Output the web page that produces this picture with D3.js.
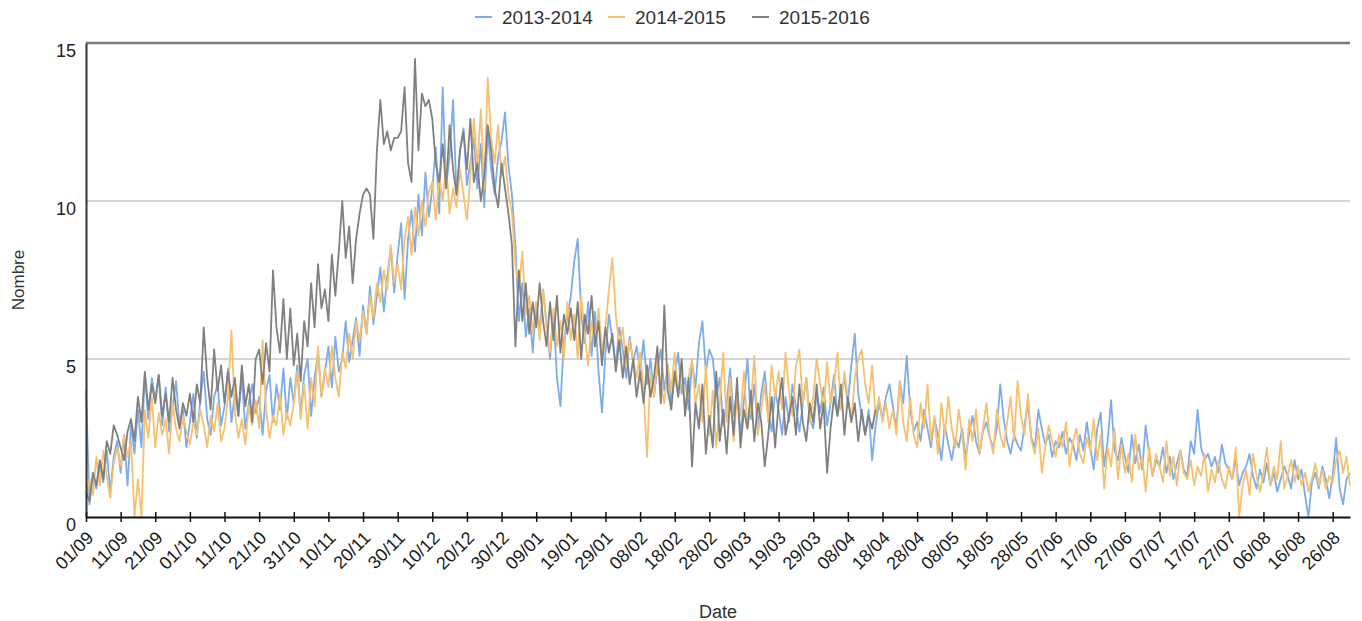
<!DOCTYPE html>
<html>

<head>
    <meta charset="utf-8">
    <style>
        body {
            margin: 0;
            background: #fff;
        }

        text {
            font-family: "Liberation Sans", Arial, sans-serif;
        }
    </style>
    <script src="https://cdn.jsdelivr.net/npm/d3@7"></script>
</head>

<body>
    <script>
        const seriesNames = ["2013-2014", "2014-2015", "2015-2016"];
        const seriesColors = ["#7eacea", "#f6c16f", "#808080"];

        const tickLabels = ["01/09", "11/09", "21/09", "01/10", "11/10", "21/10", "31/10", "10/11", "20/11",
            "30/11", "10/12", "20/12", "30/12", "09/01", "19/01", "29/01", "08/02", "18/02", "28/02",
            "09/03", "19/03", "29/03", "08/04", "18/04", "28/04", "08/05", "18/05", "28/05", "07/06",
            "17/06", "27/06", "07/07", "17/07", "27/07", "06/08", "16/08", "26/08"];

        const yTicks = [0, 5, 10, 15];

        // one value per day, starting 01/09
        const values2013 = [
            4.0, 0.4, 1.3, 0.9, 1.6, 1.1, 2.1, 0.8, 1.9, 2.4,
            1.4, 2.6, 1.0, 2.9, 2.0, 3.4, 2.2, 4.5, 3.1, 4.4,
            3.7, 4.5, 2.9, 4.1, 2.7, 3.5, 4.3, 2.9, 3.4, 2.2,
            3.0, 3.9, 2.5, 3.7, 4.6, 3.1, 2.6, 3.8, 4.2, 2.9,
            3.5, 4.7, 3.0, 3.9, 3.2, 4.4, 2.8, 3.6, 4.2, 3.3,
            3.8, 2.6, 4.0, 4.5, 3.0, 4.2, 3.4, 4.7, 3.1, 4.4,
            3.6, 4.8, 3.2, 4.5, 5.0, 3.2, 4.4, 5.2, 3.8, 4.6,
            5.4, 4.1, 5.7, 4.6, 5.0, 6.2, 4.9, 5.6, 6.3, 5.1,
            6.7, 5.8, 7.3, 6.1, 7.0, 7.9, 6.5, 7.6, 8.5, 7.1,
            8.3, 9.3, 6.9, 8.8, 9.7, 8.4, 10.2, 8.9, 10.9, 9.5,
            10.4, 11.7, 9.6, 13.6, 10.5, 11.4, 13.2, 10.2, 11.6, 12.3,
            10.5, 11.2, 12.0, 10.4, 11.8, 9.8, 12.2, 11.0, 10.2, 11.4,
            11.9, 12.8, 11.1, 10.2, 8.6, 6.2, 7.4, 5.7, 6.6, 5.2,
            6.8, 5.9, 7.2, 6.1, 5.0, 6.4, 4.4, 3.5, 5.6, 6.3,
            7.0, 8.1, 8.8, 6.4, 5.5, 6.8, 5.1, 6.5, 4.6, 3.3,
            5.2, 6.4, 5.6, 4.8, 6.0, 5.3, 4.4, 5.7, 4.9, 5.4,
            4.6, 5.6, 4.2, 5.0, 3.8, 4.7, 5.3, 4.0, 4.8, 3.6,
            4.5, 5.2, 3.9, 4.4, 3.4, 4.9, 4.1, 5.5, 6.2, 4.6,
            5.3, 5.0, 3.8, 4.4, 2.9, 3.6, 4.7, 3.2, 4.0, 2.6,
            3.7, 5.0, 3.1, 4.2, 2.8, 3.9, 4.6, 3.3, 2.7, 4.0,
            3.4, 2.6, 3.8, 3.0, 4.2, 3.5, 2.7, 3.6, 4.4, 3.1,
            2.8, 3.9, 3.3, 4.1, 2.9, 3.6, 4.5, 3.2, 3.8, 4.4,
            3.6, 4.8, 5.8, 3.9, 3.2, 2.6, 3.4, 1.8, 2.9, 3.6,
            3.1, 3.8, 4.2, 3.5, 2.8, 4.3, 3.6, 5.1, 3.4, 2.7,
            3.0, 2.4, 3.4, 2.8, 2.2, 3.1, 2.6, 1.8, 2.9, 2.3,
            1.8, 2.5, 2.2, 2.8, 1.9, 2.6, 3.2, 2.4, 2.0, 2.7,
            3.0, 2.5, 2.2, 2.8, 4.2, 3.1, 2.4, 2.0, 2.6, 2.3,
            2.1, 2.9, 3.6, 2.5, 2.2, 3.4, 2.8, 2.3, 2.6, 1.9,
            2.4, 2.2, 2.7, 2.0, 2.5, 2.3, 1.8, 2.6, 2.1, 3.0,
            2.2, 1.5, 2.8, 3.3, 1.6, 2.4, 3.7, 2.1, 1.8, 2.5,
            1.9, 1.4, 2.6, 1.7, 2.3, 1.5, 2.9, 2.0, 1.3, 1.8,
            1.6, 2.2, 1.4, 1.9, 1.2, 1.7, 2.1, 1.5, 1.3, 2.4,
            2.0, 3.4, 2.2, 1.8, 2.0, 1.6, 1.9, 1.4, 2.3, 1.7,
            1.5, 1.2, 1.8, 1.0, 1.4, 1.6, 2.0, 1.3, 0.9, 1.5,
            1.1, 1.7, 1.0, 1.4, 0.8, 1.2, 1.6, 1.3, 0.9, 1.8,
            1.2, 1.5, 0.7, 0.0, 1.1, 1.4, 0.9, 1.6, 1.2, 0.6,
            1.3, 2.5, 0.9, 0.4, 1.2, 1.4
        ];

        const values2014 = [
            0.6, 1.2, 0.7, 1.9, 1.0, 2.1, 1.3, 0.6, 1.7, 2.2,
            1.6, 2.6, 1.9, 2.4, 0.0, 1.2, 0.0, 3.4, 2.5, 3.8,
            2.2, 3.3, 2.6, 3.1, 2.0, 3.6, 2.8, 2.4, 3.2, 2.7,
            2.3, 3.0, 2.6, 3.4, 2.9, 2.2, 3.2, 2.7, 3.6, 2.4,
            2.8, 3.8, 5.9, 3.3, 2.5, 3.1, 2.3, 3.5, 2.9, 3.7,
            2.8, 5.6, 3.4, 2.5, 3.2, 2.9, 3.9, 2.6, 3.3, 2.9,
            3.6, 4.6, 3.1, 4.2, 2.8, 4.4, 3.5, 5.4, 3.8, 4.7,
            4.1, 5.4, 4.4, 3.8, 5.2, 4.7, 5.8, 5.0, 6.2, 5.6,
            6.5, 5.8, 7.0, 6.3, 7.4, 6.8, 7.8, 7.2, 8.6, 7.4,
            8.0, 7.2, 8.8, 9.5, 8.3, 9.8, 8.9, 10.0, 9.2, 10.3,
            10.6, 9.4, 10.8, 10.0, 11.2, 9.6, 10.4, 9.8, 11.0, 10.2,
            9.4, 10.8, 12.6, 11.0, 12.9, 10.4, 13.9, 12.0, 11.2, 12.4,
            10.8, 11.4, 10.2, 9.6, 8.0, 7.2, 8.4, 6.4, 7.0, 5.8,
            6.8, 5.6, 7.2, 6.0, 5.2, 6.6, 5.4, 6.2, 5.0, 6.8,
            5.6, 6.4, 5.0, 7.0, 5.8, 4.8, 6.2, 5.4, 6.6, 5.2,
            6.0, 7.2, 8.2, 6.4, 5.4, 6.0, 4.8, 5.6, 5.0, 4.4,
            5.2, 4.0, 1.9, 4.6, 3.8, 5.0, 4.2, 3.6, 4.8, 4.0,
            5.2, 3.8, 4.6, 3.4, 4.4, 5.0, 3.6, 4.2, 3.0, 4.8,
            2.6, 4.0, 2.2, 3.6, 5.2, 3.0, 4.4, 2.4, 3.8, 3.2,
            4.6, 2.8, 3.6, 5.1, 2.6, 3.4, 4.2, 3.0, 4.8, 3.8,
            4.6, 3.4, 5.2, 4.0, 3.2, 4.8, 5.3, 3.6, 4.4, 3.0,
            3.8, 5.0, 4.2, 3.4, 4.9, 3.6, 4.2, 5.2, 3.4, 4.6,
            3.8, 3.0, 4.4, 5.0, 5.3, 4.2, 3.6, 4.8, 3.2, 3.8,
            3.0, 3.6, 2.8, 3.4, 2.6, 4.3, 3.0, 2.4, 3.8, 2.6,
            2.2, 3.6, 2.8, 4.2, 2.4, 3.2, 2.0, 3.6, 2.6, 3.8,
            2.8, 2.2, 3.4, 2.6, 1.5, 3.1, 2.4, 3.4, 2.0, 2.8,
            3.6, 2.5, 2.0, 3.4, 2.6, 2.2, 3.0, 3.8, 2.4, 4.3,
            3.2, 2.6, 3.9, 2.4, 2.0, 2.8, 1.4, 2.2, 2.9, 2.4,
            1.9, 2.6, 2.2, 3.0, 1.6, 2.4, 2.8, 2.0, 1.7, 2.5,
            2.1, 3.1, 1.8, 2.6, 0.9, 2.2, 1.6, 2.8, 1.2, 2.3,
            1.4, 2.0, 1.1, 2.6, 1.5, 1.9, 0.8, 2.2, 1.3, 2.0,
            1.6, 1.1, 2.4, 1.3, 1.9, 1.0, 2.1, 1.4, 1.2, 1.8,
            1.0, 1.6, 1.3, 2.0, 0.8, 1.5, 1.1, 1.8, 1.2, 0.9,
            1.6, 1.2, 2.2, 0.0, 1.0, 1.5, 0.7, 2.0, 1.3, 0.8,
            1.4, 2.2, 1.0, 1.6, 1.2, 2.4, 0.9, 1.3, 1.8, 1.1,
            1.6, 1.0, 1.4, 0.8, 1.2, 1.7, 1.0, 1.5, 0.9, 1.3,
            1.1, 1.8, 2.1, 1.4, 1.9, 1.0
        ];

        const values2015 = [
            0.8, 0.5, 1.4, 1.0, 1.8, 1.2, 2.4, 2.0, 2.9, 2.6,
            2.2, 1.8, 2.7, 3.1, 2.4, 3.8, 3.0, 4.6, 3.4, 4.2,
            3.6, 4.5, 3.2, 3.9, 3.0, 4.4, 3.4, 2.8, 3.6, 3.2,
            3.9, 3.0, 4.2, 3.6, 6.0, 4.4, 3.4, 5.3, 4.0, 4.8,
            3.6, 4.6, 3.8, 4.4, 3.2, 4.8, 3.5, 4.2, 3.0, 5.0,
            5.3, 4.2, 5.5, 4.6, 7.8, 6.0, 5.2, 6.9, 5.0, 6.6,
            4.8, 5.8, 4.3, 6.2, 5.4, 7.4, 6.0, 8.0, 6.6, 7.2,
            6.2, 8.3, 7.0, 8.4, 10.0, 8.2, 9.2, 7.4, 8.8, 9.6,
            10.2, 10.4, 10.2, 8.8, 11.6, 13.2, 11.8, 12.2, 11.6, 12.0,
            12.0, 12.2, 13.6, 11.2, 10.6, 14.5, 11.6, 13.4, 13.0, 13.2,
            12.6, 11.2, 10.6, 11.8, 10.4, 12.4, 11.0, 10.2, 11.6, 12.2,
            11.0, 12.6, 10.6, 11.2, 10.0, 10.8, 12.4, 11.6, 10.4, 9.8,
            11.2, 10.4, 9.6, 8.6, 5.4, 7.8, 6.2, 7.4, 5.8, 6.8,
            6.0, 7.4, 6.2, 5.4, 6.8, 5.6, 7.0, 5.2, 6.4, 5.8,
            6.6, 5.6, 6.8, 5.0, 6.4, 5.8, 7.0, 5.4, 6.2, 4.8,
            6.0, 5.2, 5.8, 4.6, 5.6, 4.4, 5.4, 4.2, 5.0, 3.8,
            4.6, 3.6, 4.8, 3.8, 4.4, 5.4, 3.6, 6.7, 4.0, 3.4,
            4.6, 3.8, 5.0, 3.2, 4.4, 1.6, 3.6, 2.8, 4.2, 2.0,
            3.2, 2.2, 4.6, 2.4, 3.4, 2.0, 3.8, 2.6, 4.4, 2.2,
            3.4, 2.8, 4.0, 2.4, 3.6, 3.0, 1.6, 2.6, 3.8, 2.2,
            3.6, 4.4, 2.6, 3.2, 3.8, 2.6, 4.2, 3.0, 2.4, 3.6,
            3.0, 4.2, 2.8, 3.6, 1.4, 2.8, 3.8, 3.2, 4.2, 2.6,
            3.8, 3.0, 3.6, 2.4, 3.4, 2.6, 3.2, 2.8, 3.4
        ];

        const allSeries = [values2013, values2014, values2015];

        const w = 1362;
        const h = 621;
        const plotLeft = 86, plotRight = 1350, plotTop = 43, plotBottom = 517;

        const xScale = d3.scaleLinear()
            .domain([0, 365])
            .range([plotLeft, plotRight]);

        const yScale = d3.scaleLinear()
            .domain([0, 15])
            .range([plotBottom, plotTop]);

        const svg = d3.select("body")
            .append("svg")
            .attr("width", w)
            .attr("height", h);

        // grid lines
        svg.append("g")
            .selectAll("line")
            .data(yTicks.filter((d) => d > 0 && d < 15))
            .enter()
            .append("line")
            .attr("x1", plotLeft)
            .attr("x2", plotRight)
            .attr("y1", (d) => yScale(d))
            .attr("y2", (d) => yScale(d))
            .attr("stroke", "#c8c8c8")
            .attr("stroke-width", 1.5);

        svg.append("line")
            .attr("x1", plotLeft)
            .attr("x2", plotRight)
            .attr("y1", yScale(15))
            .attr("y2", yScale(15))
            .attr("stroke", "#7a7a7a")
            .attr("stroke-width", 2.5);

        // series
        const line = d3.line()
            .x((d, i) => xScale(i))
            .y((d) => yScale(d));

        svg.append("g")
            .selectAll("path")
            .data(allSeries)
            .enter()
            .append("path")
            .attr("d", line)
            .attr("fill", "none")
            .attr("stroke", (d, i) => seriesColors[i])
            .attr("stroke-width", 1.8)
            .attr("stroke-linejoin", "round");

        // y axis
        const yAxis = d3.axisLeft(yScale)
            .tickValues(yTicks)
            .tickSize(0)
            .tickPadding(10);

        const gy = svg.append("g")
            .attr("transform", "translate(" + plotLeft + ",0)")
            .call(yAxis);
        gy.select(".domain").attr("stroke", "#333").attr("stroke-width", 2);
        gy.selectAll("text")
            .attr("font-size", 18)
            .attr("fill", "#222")
            .attr("dy", "0.75em");

        // x axis
        const xAxis = d3.axisBottom(xScale)
            .tickValues(tickLabels.map((d, i) => i * 10))
            .tickFormat((d, i) => tickLabels[i])
            .tickSize(5)
            .tickSizeOuter(0);

        const gx = svg.append("g")
            .attr("transform", "translate(0," + plotBottom + ")")
            .call(xAxis);
        gx.select(".domain").attr("stroke", "#111").attr("stroke-width", 2);
        gx.selectAll(".tick line")
            .attr("y1", -5)
            .attr("stroke", "#111")
            .attr("stroke-width", 1.5);
        gx.selectAll("text")
            .attr("font-size", 18)
            .attr("fill", "#1a1a1a")
            .attr("text-anchor", "end")
            .attr("x", 0)
            .attr("y", 0)
            .attr("dy", null)
            .attr("transform", "translate(8,22) rotate(-45)");

        // axis titles
        svg.append("text")
            .attr("transform", "translate(24," + ((plotTop + plotBottom) / 2) + ") rotate(-90)")
            .attr("text-anchor", "middle")
            .attr("font-size", 17)
            .attr("fill", "#333")
            .text("Nombre");

        svg.append("text")
            .attr("x", (plotLeft + plotRight) / 2)
            .attr("y", 618)
            .attr("text-anchor", "middle")
            .attr("font-size", 18)
            .attr("fill", "#333")
            .text("Date");

        // legend
        const legendX = [475, 608, 752];
        const legend = svg.append("g")
            .selectAll("g")
            .data(seriesNames)
            .enter()
            .append("g")
            .attr("transform", (d, i) => "translate(" + legendX[i] + ",17)");

        legend.append("line")
            .attr("x1", 0)
            .attr("x2", 17)
            .attr("stroke", (d, i) => seriesColors[i])
            .attr("stroke-width", 2);

        legend.append("text")
            .attr("x", 27)
            .attr("dy", "0.35em")
            .attr("font-size", 19)
            .attr("fill", "#333")
            .text((d) => d);
    </script>
</body>

</html>
